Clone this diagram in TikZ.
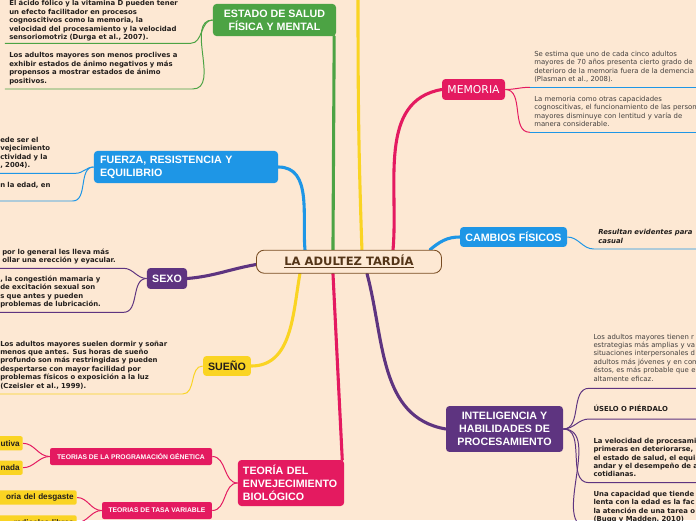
\documentclass[tikz,border=0pt]{standalone}
\usepackage{fontspec}
\setmainfont{DejaVu Sans}
\newfontfamily\arialfont{Liberation Sans}
\usetikzlibrary{backgrounds}
\definecolor{mapbg}{RGB}{253,232,211}
\definecolor{mapgreen}{RGB}{76,163,68}
\definecolor{mapblue}{RGB}{30,150,230}
\definecolor{mappink}{RGB}{228,26,96}
\definecolor{mappurple}{RGB}{94,52,128}
\definecolor{mapyellow}{RGB}{250,212,35}
\definecolor{mapbrown}{RGB}{120,76,34}
\definecolor{maptext}{RGB}{34,30,28}
\newcommand{\leafgapdim}{2.5pt}
\tikzset{
  root/.style={draw=mapbrown, line width=0.6pt, fill=mapbg, rounded corners=5.5pt,
               minimum width=131.6pt, minimum height=16.4pt, inner sep=0pt,
               text=mapbrown!70!black, font=\bfseries\fontsize{8.2}{10}\selectfont},
  topic/.style={rounded corners=2.5pt, inner sep=0pt, text=white,
                font=\arialfont\bfseries\fontsize{7.6}{9.2}\selectfont},
  subtopic/.style={fill=mappink, rounded corners=1.5pt, inner sep=0pt, minimum height=12.1pt,
                   text=white, font=\arialfont\bfseries\fontsize{4.8}{6}\selectfont},
  tag/.style={fill=mapyellow, rounded corners=1.5pt, anchor=east, inner xsep=2.2pt, inner ysep=0pt,
              minimum height=10.2pt, text width=90pt, align=right, text=maptext,
              font=\arialfont\bfseries\fontsize{5.8}{7}\selectfont},
  lowgap/.code={\renewcommand{\leafgapdim}{#1}},
  leaf/.style={anchor=south west, align=left, inner xsep=3pt, inner ysep=1.4pt, lowgap=2.5pt,
               execute at end node={\rule[-\leafgapdim]{0pt}{\leafgapdim}},
               text=maptext, font=\bfseries\fontsize{4.9}{6}\selectfont},
  plainleaf/.style={leaf, text=maptext!85, font=\fontsize{4.9}{6}\selectfont},
  branch/.style={line width=2.2pt, line cap=round},
  twig/.style={line width=0.7pt},
}
\begin{document}
\begin{tikzpicture}[x=0.025cm,y=-0.025cm]
  \useasboundingbox (0,0) rectangle (696,520);
  \clip (0,0) rectangle (696,520);

  \node[root] (adultez) at (349,261.7) {\underline{LA ADULTEZ TARDÍA}};
  \node[topic, fill=mapgreen, minimum width=87.5pt, minimum height=22.8pt, align=center] (salud) at (274.5,20) {ESTADO DE SALUD\\FÍSICA Y MENTAL};
  \node[topic, fill=mapblue, text width=122.3pt, inner xsep=4.3pt, minimum height=22.8pt, align=left] (fuerza) at (186,167) {FUERZA, RESISTENCIA Y\\EQUILIBRIO};
  \node[topic, fill=mappink, minimum width=44.8pt, minimum height=14.9pt, font=\fontsize{7.7}{9.2}\selectfont] (memoria) at (473.5,89.5) {MEMORIA};
  \node[topic, fill=mapblue, minimum width=76.1pt, minimum height=14.2pt] (cambios) at (513.5,237) {CAMBIOS FÍSICOS};
  \node[topic, fill=mappurple, minimum width=28.5pt, minimum height=14.9pt] (sexo) at (167,278.5) {SEXO};
  \node[topic, fill=mapyellow, text=maptext, minimum width=34.1pt, minimum height=14.2pt] (sueno) at (227,366) {SUEÑO};
  \node[topic, fill=mappink, text width=68.3pt, inner xsep=3.6pt, minimum height=32.7pt, align=left] (teoria) at (291,483) {TEORÍA DEL\\ENVEJECIMIENTO\\BIOLÓGICO};
  \node[topic, fill=mappurple, minimum width=83.2pt, minimum height=32.7pt, align=center] (intel) at (504.5,429) {INTELIGENCIA Y\\HABILIDADES DE\\PROCESAMIENTO};
  \coordinate (arriba) at (358,-6);

  \node[subtopic, minimum width=115.2pt] (genetica) at (131,456.5) {TEORIAS DE LA PROGRAMACIÓN GÉNETICA};
  \node[subtopic, minimum width=78.2pt] (tasa) at (157,510.5) {TEORIAS DE TASA VARIABLE};
  \node[tag] (evolutiva) at (23,443.3) {utiva};
  \node[tag] (senescencia) at (23,467.7) {nada};
  \node[tag] (desgaste) at (77,497.5) {oria del desgaste};
  \node[tag] (radicales) at (77,522.5) {radicales libres};

  \node[leaf, text width=125.8pt, lowgap=0.5pt] (e1) at (4.8,43.3) {El ácido fólico y la vitamina D pueden tener\\un efecto facilitador en procesos\\cognoscitivos como la memoria, la\\velocidad del procesamiento y la velocidad\\sensoriomotriz (Durga et al., 2007).};
  \node[leaf, text width=127.2pt] (e2) at (4.8,89) {Los adultos mayores son menos proclives a\\exhibir estados de ánimo negativos y más\\propensos a mostrar estados de ánimo\\positivos.};
  \node[leaf, text width=50.4pt] (f1) at (-4.2,173.3) {ede ser el\\vejecimiento\\ctividad y la\\, 2004).};
  \node[leaf, text width=48.2pt, lowgap=8.2pt] (f2) at (-4.2,201) {n la edad, en};
  \node[leaf, text width=83pt] (s1) at (-2.2,268.3) {por lo general les lleva más\\ollar una erección y eyacular.};
  \node[leaf, text width=84.5pt] (s2) at (-4.2,312.3) {, la congestión mamaria y\\de excitación sexual son\\s que antes y pueden\\problemas de lubricación.};
  \node[leaf, text width=126.5pt] (u1) at (-4.2,394) {Los adultos mayores suelen dormir y soñar\\menos que antes. Sus horas de sueño\\profundo son más restringidas y pueden\\despertarse con mayor facilidad por\\problemas físicos o exposición a la luz\\(Czeisler et al., 1999).};
  \node[plainleaf, text width=160pt] (m1) at (529.8,87.3) {Se estima que uno de cada cinco adultos\\mayores de 70 años presenta cierto grado de\\deterioro de la memoria fuera de la demencia\\(Plasman et al., 2008).};
  \node[plainleaf, text width=160pt] (m2) at (529.8,132.3) {La memoria como otras capacidades\\cognoscitivas, el funcionamiento de las personas\\mayores disminuye con lentitud y varía de\\manera considerable.};
  \node[leaf, text width=100pt, font=\bfseries\itshape\fontsize{4.9}{6}\selectfont] (c1) at (593.8,249) {Resultan evidentes para\\casual};
  \node[plainleaf, text width=160pt, lowgap=3.4pt] (i1) at (589,388.3) {Los adultos mayores tienen r\\estrategias más amplias y va\\situaciones interpersonales d\\adultos más jóvenes y en com\\éstos, es más probable que e\\altamente eficaz.};
  \node[leaf, text width=160pt, lowgap=3.4pt] (i2) at (589,419) {ÚSELO O PIÉRDALO};
  \node[leaf, text width=160pt] (i3) at (589,482.7) {La velocidad de procesami\\primeras en deteriorarse,\\el estado de salud, el equi\\andar y el desempeño de a\\cotidianas.};
  \node[leaf, text width=160pt] (i4) at (589,527.6) {Una capacidad que tiende\\lenta con la edad es la fac\\la atención de una tarea o\\(Bugg y Madden, 2010)};

  \begin{pgfonlayer}{background}
    \fill[mapbg] (0,0) rectangle (696,520);
    \draw[branch, mapyellow] ([xshift=9.2pt]adultez.north) to[out=92,in=-90] (arriba);
    \draw[branch, mapgreen] ([xshift=-11.4pt]adultez.north) -- ([xshift=-1.5pt]salud.south east);
    \draw[branch, mapblue] ([xshift=-31.3pt]adultez.north) to[out=95,in=0] (fuerza.east);
    \draw[branch, mappink] ([xshift=31.3pt]adultez.north) to[out=85,in=190] (memoria.west);
    \draw[branch, mapblue] ([xshift=57.6pt]adultez.north) to[out=40,in=180] (cambios.west);
    \draw[branch, mappurple] ([yshift=-2pt]adultez.west) to[out=190,in=5] (sexo.east);
    \draw[branch, mapyellow] ([xshift=-34.9pt]adultez.south) to[out=-100,in=0] (sueno.east);
    \draw[branch, mappink] ([xshift=-11.4pt]adultez.south) -- ([xshift=-1.5pt]teoria.north east);
    \draw[branch, mappurple] ([xshift=12.8pt]adultez.south) to[out=-75,in=170] (intel.west);

    \draw[twig, mapgreen] (salud.west) to[out=180,in=0] (e1.south east) -- (e1.south west);
    \draw[twig, mapgreen] (salud.west) to[out=180,in=0] (e2.south east) -- (e2.south west);
    \draw[twig, mapblue] (fuerza.west) to[out=180,in=0] (f1.south east) -- (f1.south west);
    \draw[twig, mapblue] (fuerza.west) to[out=180,in=0] (f2.south east) -- (f2.south west);
    \draw[twig, mappurple] (sexo.west) to[out=180,in=0] (s1.south east) -- (s1.south west);
    \draw[twig, mappurple] (sexo.west) to[out=180,in=0] (s2.south east) -- (s2.south west);
    \draw[twig, mapyellow] (sueno.west) to[out=180,in=0] (u1.south east) -- (u1.south west);
    \draw[twig, mappink] (memoria.east) to[out=0,in=180] (m1.south west);
    \draw[twig, mappink] (memoria.east) to[out=0,in=180] (m2.south west);
    \draw[twig, mapblue] (m1.south west) -- (m1.south east);
    \draw[twig, mapblue] (m2.south west) -- (m2.south east);
    \draw[twig, mapblue] (cambios.east) to[out=0,in=180] (c1.south west) -- (c1.south east);
    \draw[twig, mappurple] (intel.east) to[out=0,in=180] (i1.south west) -- (i1.south east);
    \draw[twig, mappurple] (intel.east) to[out=0,in=180] (i2.south west) -- (i2.south east);
    \draw[twig, mappurple] (intel.east) to[out=0,in=180] (i3.south west) -- (i3.south east);
    \draw[twig, mappurple] (intel.east) to[out=0,in=180] (i4.south west) -- (i4.south east);

    \draw[twig, mappink] (teoria.west) to[out=180,in=0] (genetica.east);
    \draw[twig, mappink] (teoria.west) to[out=180,in=0] (tasa.east);
    \draw[twig, mappink] (genetica.west) to[out=180,in=0] (evolutiva.east);
    \draw[twig, mappink] (genetica.west) to[out=180,in=0] (senescencia.east);
    \draw[twig, mappink] (tasa.west) to[out=180,in=0] (desgaste.east);
    \draw[twig, mappink] (tasa.west) to[out=180,in=0] (radicales.east);
  \end{pgfonlayer}
\end{tikzpicture}
\end{document}
